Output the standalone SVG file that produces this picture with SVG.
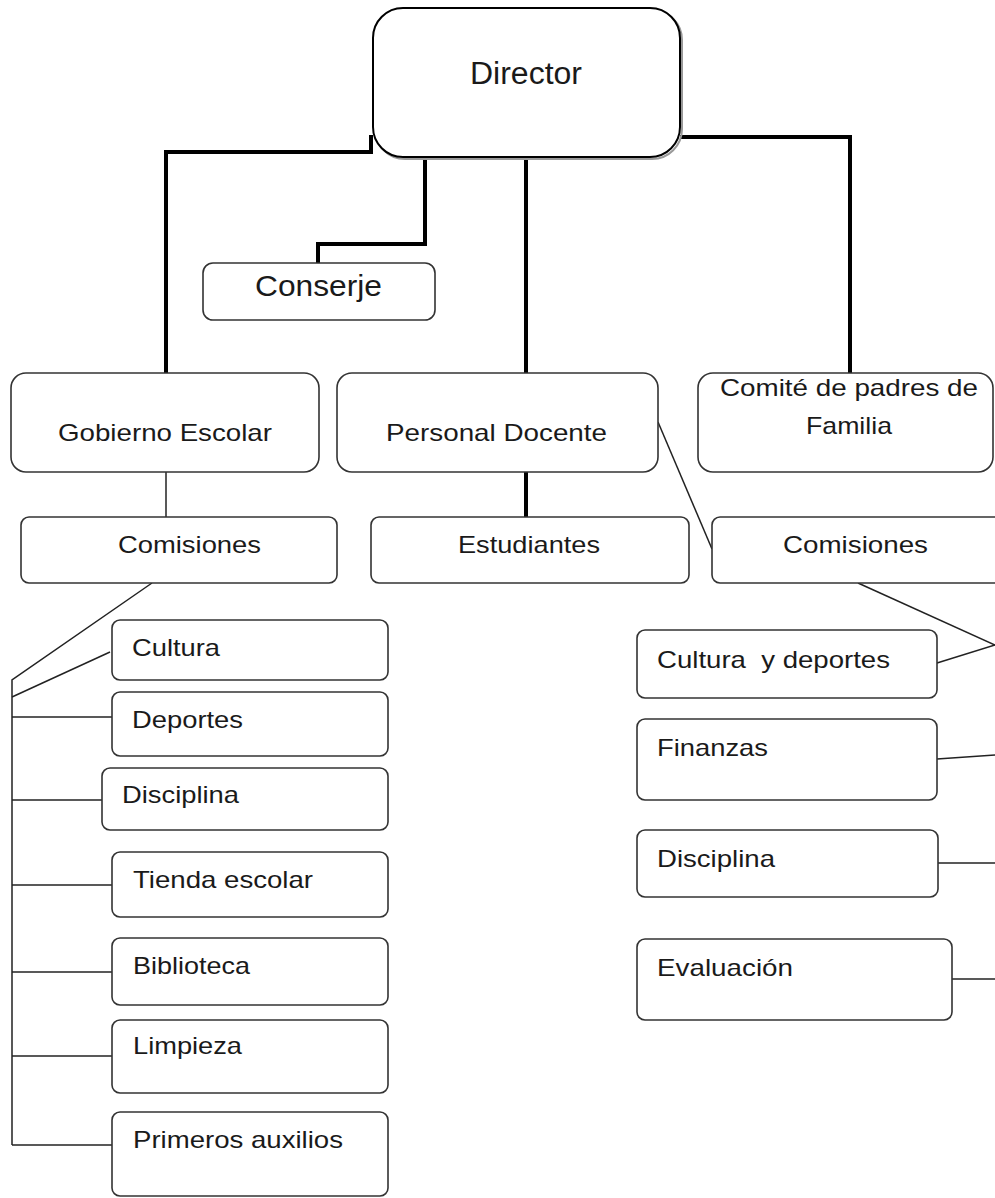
<svg xmlns="http://www.w3.org/2000/svg" width="995" height="1198" viewBox="0 0 995 1198">
<style>
text{font-family:"Liberation Sans",Arial,sans-serif;fill:#1a1a1a;white-space:pre;}
.box{fill:#fff;stroke:#333;stroke-width:1.6;}
.thick{fill:none;stroke:#000;stroke-width:4;stroke-linejoin:miter;}
.thin{fill:none;stroke:#222;stroke-width:1.5;}
.s{font-size:24px;}
</style>
<rect width="995" height="1198" fill="#fff"/>
<g id="connectors">
<path class="thick" d="M166,373 V152 H371 V135"/>
<path class="thick" d="M680,137 H850 V373"/>
<path class="thick" d="M425,157 V244 H318 V263"/>
<path class="thick" d="M526,157 V373"/>
<path class="thick" d="M526,472 V517"/>
<path class="thin" d="M166,472 V517"/>
<path class="thin" d="M658,422 L712,549"/>
<path class="thin" d="M152,583 L12,680 V1145"/>
<path class="thin" d="M12,697 L110,652"/>
<path class="thin" d="M12,717 H112"/>
<path class="thin" d="M12,800 H102"/>
<path class="thin" d="M12,885 H112"/>
<path class="thin" d="M12,972 H112"/>
<path class="thin" d="M12,1056 H112"/>
<path class="thin" d="M12,1145 H112"/>
<path class="thin" d="M858,583 L995,645"/>
<path class="thin" d="M937,663 L995,645"/>
<path class="thin" d="M937,759 L995,755"/>
<path class="thin" d="M938,863 H995"/>
<path class="thin" d="M952,979 H995"/>
</g>
<g id="director">
<rect x="375" y="10" width="307" height="149" rx="30" fill="none" stroke="#999" stroke-width="2"/>
<rect x="373" y="8" width="307" height="149" rx="30" fill="#fff" stroke="#000" stroke-width="2"/>
<text x="470" y="84" font-size="31" textLength="112" lengthAdjust="spacingAndGlyphs">Director</text>
</g>
<g id="conserje">
<rect class="box" x="203" y="263" width="232" height="57" rx="10"/>
<text x="255" y="296" font-size="30" textLength="127" lengthAdjust="spacingAndGlyphs">Conserje</text>
</g>
<g id="gobierno">
<rect class="box" x="11" y="373" width="308" height="99" rx="15"/>
<text class="s" x="58" y="441" textLength="214" lengthAdjust="spacingAndGlyphs">Gobierno Escolar</text>
</g>
<g id="personal">
<rect class="box" x="337" y="373" width="321" height="99" rx="15"/>
<text class="s" x="386" y="441" textLength="221" lengthAdjust="spacingAndGlyphs">Personal Docente</text>
</g>
<g id="comite">
<rect class="box" x="698" y="373" width="295" height="99" rx="15"/>
<text class="s" x="720" y="396" textLength="258" lengthAdjust="spacingAndGlyphs">Comité de padres de</text>
<text class="s" x="806" y="434" textLength="86" lengthAdjust="spacingAndGlyphs">Familia</text>
</g>
<g id="comisiones-izq">
<rect class="box" x="21" y="517" width="316" height="66" rx="8"/>
<text class="s" x="118" y="553" textLength="143" lengthAdjust="spacingAndGlyphs">Comisiones</text>
</g>
<g id="estudiantes">
<rect class="box" x="371" y="517" width="318" height="66" rx="8"/>
<text class="s" x="458" y="553" textLength="142" lengthAdjust="spacingAndGlyphs">Estudiantes</text>
</g>
<g id="comisiones-der">
<rect class="box" x="712" y="517" width="300" height="66" rx="8"/>
<text class="s" x="783" y="553" textLength="145" lengthAdjust="spacingAndGlyphs">Comisiones</text>
</g>
<g id="cultura">
<rect class="box" x="112" y="620" width="276" height="60" rx="8"/>
<text class="s" x="132" y="656" textLength="88" lengthAdjust="spacingAndGlyphs">Cultura</text>
</g>
<g id="deportes">
<rect class="box" x="112" y="692" width="276" height="64" rx="8"/>
<text class="s" x="132" y="728" textLength="111" lengthAdjust="spacingAndGlyphs">Deportes</text>
</g>
<g id="disciplina-izq">
<rect class="box" x="102" y="768" width="286" height="62" rx="8"/>
<text class="s" x="122" y="803" textLength="117" lengthAdjust="spacingAndGlyphs">Disciplina</text>
</g>
<g id="tienda">
<rect class="box" x="112" y="852" width="276" height="65" rx="8"/>
<text class="s" x="133" y="888" textLength="180" lengthAdjust="spacingAndGlyphs">Tienda escolar</text>
</g>
<g id="biblioteca">
<rect class="box" x="112" y="938" width="276" height="67" rx="8"/>
<text class="s" x="133" y="974" textLength="117" lengthAdjust="spacingAndGlyphs">Biblioteca</text>
</g>
<g id="limpieza">
<rect class="box" x="112" y="1020" width="276" height="73" rx="8"/>
<text class="s" x="133" y="1054" textLength="109" lengthAdjust="spacingAndGlyphs">Limpieza</text>
</g>
<g id="primeros">
<rect class="box" x="112" y="1112" width="276" height="84" rx="8"/>
<text class="s" x="133" y="1148" textLength="210" lengthAdjust="spacingAndGlyphs">Primeros auxilios</text>
</g>
<g id="cultura-deportes">
<rect class="box" x="637" y="630" width="300" height="68" rx="8"/>
<text class="s" x="657" y="668" textLength="233" lengthAdjust="spacingAndGlyphs">Cultura  y deportes</text>
</g>
<g id="finanzas">
<rect class="box" x="637" y="719" width="300" height="81" rx="8"/>
<text class="s" x="657" y="756" textLength="111" lengthAdjust="spacingAndGlyphs">Finanzas</text>
</g>
<g id="disciplina-der">
<rect class="box" x="637" y="830" width="301" height="67" rx="8"/>
<text class="s" x="657" y="867" textLength="118" lengthAdjust="spacingAndGlyphs">Disciplina</text>
</g>
<g id="evaluacion">
<rect class="box" x="637" y="939" width="315" height="81" rx="8"/>
<text class="s" x="657" y="976" textLength="136" lengthAdjust="spacingAndGlyphs">Evaluación</text>
</g>
</svg>
